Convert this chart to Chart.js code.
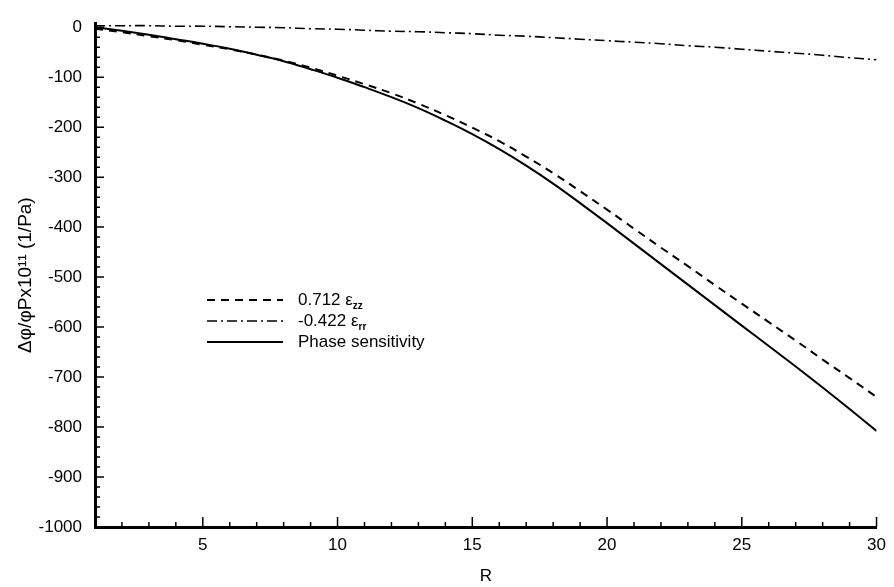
<!DOCTYPE html>
<html>
<head>
<meta charset="utf-8">
<script src="https://cdn.jsdelivr.net/npm/chart.js@4"></script>
<style>
  html, body { margin: 0; padding: 0; background: #fff; }
  #wrap { width: 894px; height: 587px; }
</style>
</head>
<body>
<div id="wrap"><canvas id="chart"></canvas></div>
<script>
// R values and the three curves
const rValues = [1,2,3,4,5,6,7,8,9,10,11,12,13,14,15,16,17,18,19,20,21,22,23,24,25,26,27,28,29,30];
const phaseSens = [0,-7,-15,-24,-33,-43,-55,-68,-84,-101,-120,-140,-162,-187,-214,-244,-277,-313,-352,-392,-433,-474,-515,-556,-597,-638,-679,-721,-764,-808];
const zzTerm = [-3,-10,-18,-26,-35,-44,-55,-67,-81,-97,-114,-132,-153,-176,-201,-228,-259,-292,-328,-365,-403,-441,-478,-516,-553,-590,-627,-665,-702,-740];
const rrTerm = [3,3,3,2,2,1,0,-1,-3,-4,-6,-8,-9,-11,-13,-16,-18,-21,-24,-27,-30,-33,-37,-40,-44,-48,-52,-56,-61,-65];

const xTicks = [5,10,15,20,25,30];
const yTicks = [-1000,-900,-800,-700,-600,-500,-400,-300,-200,-100,0];
const legendMain = ['0.712 ε', '-0.422 ε', 'Phase sensitivity'];
const legendSub = ['zz', 'rr', ''];

const FONT = 'Arial, "Liberation Sans", sans-serif';

function pts(ys) { return rValues.map((r, i) => ({x: r, y: ys[i]})); }

// inward tick marks, major and minor, like the original plot
const tickMarks = {
  id: 'tickMarks',
  afterDraw(chart) {
    const ctx = chart.ctx, xs = chart.scales.x, ys = chart.scales.y;
    const area = chart.chartArea;
    ctx.save();
    ctx.strokeStyle = '#000';
    ctx.lineWidth = 1.5;
    ctx.beginPath();
    for (let r = 2; r <= 30; r++) {
      const px = xs.getPixelForValue(r);
      const len = (r % 5 === 0) ? 10 : 5;
      ctx.moveTo(px, area.bottom); ctx.lineTo(px, area.bottom - len);
    }
    for (let v = -980; v <= 0; v += 20) {
      const py = ys.getPixelForValue(v);
      const len = (v % 100 === 0) ? 9 : 5;
      ctx.moveTo(area.left, py); ctx.lineTo(area.left + len, py);
    }
    ctx.stroke();
    ctx.restore();
  }
};

// legend drawn by hand because of the subscripts
const subLegend = {
  id: 'subLegend',
  afterDraw(chart) {
    const ctx = chart.ctx;
    const x0 = 207, x1 = 283, tx = 298;
    const rows = [300, 321, 342];
    ctx.save();
    chart.data.datasets.forEach((ds, i) => {
      const y = rows[i];
      ctx.strokeStyle = '#000';
      ctx.lineWidth = ds.borderWidth;
      ctx.setLineDash(ds.borderDash || []);
      ctx.beginPath(); ctx.moveTo(x0, y); ctx.lineTo(x1, y); ctx.stroke();
      ctx.setLineDash([]);
      ctx.fillStyle = '#000';
      ctx.textBaseline = 'middle';
      ctx.font = '17px ' + FONT;
      ctx.fillText(legendMain[i], tx, y);
      if (legendSub[i]) {
        const w = ctx.measureText(legendMain[i]).width;
        ctx.font = 'bold 10px ' + FONT;
        ctx.fillText(legendSub[i], tx + w, y + 6);
      }
    });
    ctx.restore();
  }
};

new Chart(document.getElementById('chart'), {
  type: 'line',
  data: {
    datasets: [
      { label: '0.712 ezz', data: pts(zzTerm), borderColor: '#000', borderWidth: 2, borderDash: [8, 6] },
      { label: '-0.422 err', data: pts(rrTerm), borderColor: '#000', borderWidth: 1.6, borderDash: [10, 4, 2, 4] },
      { label: 'Phase sensitivity', data: pts(phaseSens), borderColor: '#000', borderWidth: 2 }
    ]
  },
  options: {
    responsive: true,
    maintainAspectRatio: false,
    animation: false,
    layout: { padding: { top: 12, right: 12, bottom: 0, left: 0 } },
    elements: { point: { radius: 0 }, line: { tension: 0.4, fill: false } },
    plugins: { legend: { display: false }, tooltip: { enabled: false } },
    scales: {
      x: {
        type: 'linear', min: 1, max: 30,
        afterBuildTicks: s => { s.ticks = xTicks.map(v => ({value: v})); },
        afterFit: s => { s.height = 60; },
        grid: { display: false, drawTicks: false },
        border: { display: true, color: '#000', width: 3 },
        ticks: { color: '#000', padding: 8, font: { family: FONT, size: 17 }, maxRotation: 0, callback: v => String(v) },
        title: { display: true, text: 'R', color: '#000', padding: { top: 0, bottom: 0 }, font: { family: FONT, size: 17 } }
      },
      y: {
        type: 'linear', min: -1000, max: 8,
        afterBuildTicks: s => { s.ticks = yTicks.map(v => ({value: v})); },
        afterFit: s => { s.width = 95; },
        grid: { display: false, drawTicks: false },
        border: { display: true, color: '#000', width: 3 },
        ticks: { color: '#000', padding: 13, font: { family: FONT, size: 17 }, callback: v => String(v) },
        title: { display: true, text: 'Δφ/φPx10¹¹ (1/Pa)', color: '#000', padding: { top: 14, bottom: 0 }, font: { family: FONT, size: 19 } }
      }
    }
  },
  plugins: [tickMarks, subLegend]
});
</script>
</body>
</html>
